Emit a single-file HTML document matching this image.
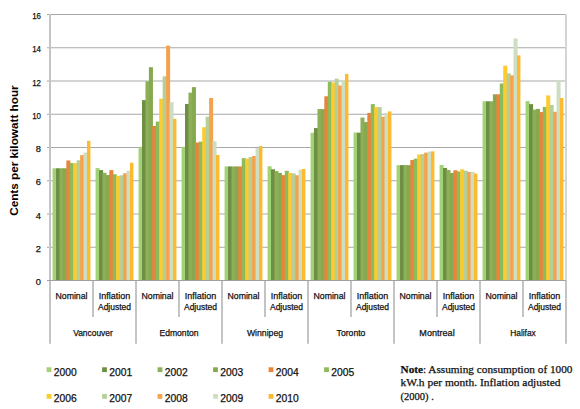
<!DOCTYPE html><html><head><meta charset="utf-8"><style>html,body{margin:0;padding:0;background:#fff;width:580px;height:409px;overflow:hidden}svg{display:block}text{font-family:"Liberation Sans",sans-serif}.t{stroke:#111;stroke-width:0.25px}</style></head><body>
<svg width="580" height="409" viewBox="0 0 580 409">
<rect width="580" height="409" fill="#fff"/>
<line x1="47" y1="247.25" x2="566.00" y2="247.25" stroke="#A8A8A8" stroke-width="1"/>
<line x1="47" y1="214.00" x2="566.00" y2="214.00" stroke="#A8A8A8" stroke-width="1"/>
<line x1="47" y1="180.75" x2="566.00" y2="180.75" stroke="#A8A8A8" stroke-width="1"/>
<line x1="47" y1="147.50" x2="566.00" y2="147.50" stroke="#A8A8A8" stroke-width="1"/>
<line x1="47" y1="114.25" x2="566.00" y2="114.25" stroke="#A8A8A8" stroke-width="1"/>
<line x1="47" y1="81.00" x2="566.00" y2="81.00" stroke="#A8A8A8" stroke-width="1"/>
<line x1="47" y1="47.75" x2="566.00" y2="47.75" stroke="#A8A8A8" stroke-width="1"/>
<line x1="47" y1="14.50" x2="566.00" y2="14.50" stroke="#A8A8A8" stroke-width="1"/>
<rect x="52.58" y="168.28" width="4.04" height="112.22" fill="#A2D276"/>
<rect x="56.02" y="168.28" width="4.04" height="112.22" fill="#6E8E44"/>
<rect x="59.46" y="168.28" width="4.04" height="112.22" fill="#8DAF57"/>
<rect x="62.90" y="168.28" width="4.04" height="112.22" fill="#86A94F"/>
<rect x="66.34" y="160.47" width="4.04" height="120.03" fill="#E9843A"/>
<rect x="69.78" y="163.13" width="4.04" height="117.37" fill="#8DBA5A"/>
<rect x="73.22" y="163.13" width="4.04" height="117.37" fill="#FDCB2C"/>
<rect x="76.66" y="160.30" width="4.04" height="120.20" fill="#B4D098"/>
<rect x="80.10" y="155.15" width="4.04" height="125.35" fill="#F5A24F"/>
<rect x="83.54" y="152.49" width="4.04" height="128.01" fill="#CEDEC3"/>
<rect x="86.98" y="140.85" width="3.44" height="139.65" fill="#FCBA30"/>
<rect x="95.58" y="168.11" width="4.04" height="112.39" fill="#A2D276"/>
<rect x="99.02" y="170.11" width="4.04" height="110.39" fill="#6E8E44"/>
<rect x="102.46" y="172.77" width="4.04" height="107.73" fill="#8DAF57"/>
<rect x="105.90" y="175.10" width="4.04" height="105.40" fill="#86A94F"/>
<rect x="109.34" y="170.11" width="4.04" height="110.39" fill="#E9843A"/>
<rect x="112.78" y="174.26" width="4.04" height="106.24" fill="#8DBA5A"/>
<rect x="116.22" y="175.93" width="4.04" height="104.57" fill="#FDCB2C"/>
<rect x="119.66" y="175.26" width="4.04" height="105.24" fill="#B4D098"/>
<rect x="123.10" y="173.27" width="4.04" height="107.23" fill="#F5A24F"/>
<rect x="126.54" y="170.61" width="4.04" height="109.89" fill="#CEDEC3"/>
<rect x="129.98" y="162.79" width="3.44" height="117.71" fill="#FCBA30"/>
<rect x="138.58" y="146.83" width="4.04" height="133.67" fill="#A2D276"/>
<rect x="142.02" y="100.12" width="4.04" height="180.38" fill="#6E8E44"/>
<rect x="145.46" y="81.33" width="4.04" height="199.17" fill="#8DAF57"/>
<rect x="148.90" y="67.20" width="4.04" height="213.30" fill="#86A94F"/>
<rect x="152.34" y="125.89" width="4.04" height="154.61" fill="#E9843A"/>
<rect x="155.78" y="121.56" width="4.04" height="158.94" fill="#8DBA5A"/>
<rect x="159.22" y="98.79" width="4.04" height="181.71" fill="#FDCB2C"/>
<rect x="162.66" y="76.34" width="4.04" height="204.16" fill="#B4D098"/>
<rect x="166.10" y="45.59" width="4.04" height="234.91" fill="#F5A24F"/>
<rect x="169.54" y="102.11" width="4.04" height="178.39" fill="#CEDEC3"/>
<rect x="172.98" y="118.74" width="3.44" height="161.76" fill="#FCBA30"/>
<rect x="181.58" y="146.83" width="4.04" height="133.67" fill="#A2D276"/>
<rect x="185.02" y="103.94" width="4.04" height="176.56" fill="#6E8E44"/>
<rect x="188.46" y="92.64" width="4.04" height="187.86" fill="#8DAF57"/>
<rect x="191.90" y="87.15" width="4.04" height="193.35" fill="#86A94F"/>
<rect x="195.34" y="142.51" width="4.04" height="137.99" fill="#E9843A"/>
<rect x="198.78" y="141.68" width="4.04" height="138.82" fill="#8DBA5A"/>
<rect x="202.22" y="127.22" width="4.04" height="153.28" fill="#FDCB2C"/>
<rect x="205.66" y="116.74" width="4.04" height="163.76" fill="#B4D098"/>
<rect x="209.10" y="97.96" width="4.04" height="182.54" fill="#F5A24F"/>
<rect x="212.54" y="141.18" width="4.04" height="139.32" fill="#CEDEC3"/>
<rect x="215.98" y="154.98" width="3.44" height="125.52" fill="#FCBA30"/>
<rect x="224.58" y="166.45" width="4.04" height="114.05" fill="#A2D276"/>
<rect x="228.02" y="166.45" width="4.04" height="114.05" fill="#6E8E44"/>
<rect x="231.46" y="166.45" width="4.04" height="114.05" fill="#8DAF57"/>
<rect x="234.90" y="166.45" width="4.04" height="114.05" fill="#86A94F"/>
<rect x="238.34" y="166.45" width="4.04" height="114.05" fill="#E9843A"/>
<rect x="241.78" y="158.14" width="4.04" height="122.36" fill="#8DBA5A"/>
<rect x="245.22" y="158.64" width="4.04" height="121.86" fill="#FDCB2C"/>
<rect x="248.66" y="156.97" width="4.04" height="123.53" fill="#B4D098"/>
<rect x="252.10" y="155.98" width="4.04" height="124.52" fill="#F5A24F"/>
<rect x="255.54" y="148.16" width="4.04" height="132.34" fill="#CEDEC3"/>
<rect x="258.98" y="146.00" width="3.44" height="134.50" fill="#FCBA30"/>
<rect x="267.58" y="166.28" width="4.04" height="114.22" fill="#A2D276"/>
<rect x="271.02" y="169.28" width="4.04" height="111.22" fill="#6E8E44"/>
<rect x="274.46" y="171.11" width="4.04" height="109.39" fill="#8DAF57"/>
<rect x="277.90" y="172.94" width="4.04" height="107.56" fill="#86A94F"/>
<rect x="281.34" y="175.10" width="4.04" height="105.40" fill="#E9843A"/>
<rect x="284.78" y="170.77" width="4.04" height="109.73" fill="#8DBA5A"/>
<rect x="288.22" y="172.94" width="4.04" height="107.56" fill="#FDCB2C"/>
<rect x="291.66" y="173.43" width="4.04" height="107.07" fill="#B4D098"/>
<rect x="295.10" y="175.26" width="4.04" height="105.24" fill="#F5A24F"/>
<rect x="298.54" y="169.61" width="4.04" height="110.89" fill="#CEDEC3"/>
<rect x="301.98" y="168.94" width="3.44" height="111.56" fill="#FCBA30"/>
<rect x="310.58" y="132.70" width="4.04" height="147.80" fill="#A2D276"/>
<rect x="314.02" y="128.05" width="4.04" height="152.45" fill="#6E8E44"/>
<rect x="317.46" y="109.09" width="4.04" height="171.41" fill="#8DAF57"/>
<rect x="320.90" y="109.09" width="4.04" height="171.41" fill="#86A94F"/>
<rect x="324.34" y="96.29" width="4.04" height="184.21" fill="#E9843A"/>
<rect x="327.78" y="81.83" width="4.04" height="198.67" fill="#8DBA5A"/>
<rect x="331.22" y="82.49" width="4.04" height="198.01" fill="#FDCB2C"/>
<rect x="334.66" y="78.67" width="4.04" height="201.83" fill="#B4D098"/>
<rect x="338.10" y="85.49" width="4.04" height="195.01" fill="#F5A24F"/>
<rect x="341.54" y="80.17" width="4.04" height="200.33" fill="#CEDEC3"/>
<rect x="344.98" y="74.02" width="3.44" height="206.48" fill="#FCBA30"/>
<rect x="353.58" y="132.54" width="4.04" height="147.96" fill="#A2D276"/>
<rect x="357.02" y="132.70" width="4.04" height="147.80" fill="#6E8E44"/>
<rect x="360.46" y="117.57" width="4.04" height="162.93" fill="#8DAF57"/>
<rect x="363.90" y="122.06" width="4.04" height="158.44" fill="#86A94F"/>
<rect x="367.34" y="112.92" width="4.04" height="167.58" fill="#E9843A"/>
<rect x="370.78" y="104.11" width="4.04" height="176.39" fill="#8DBA5A"/>
<rect x="374.22" y="107.10" width="4.04" height="173.40" fill="#FDCB2C"/>
<rect x="377.66" y="107.10" width="4.04" height="173.40" fill="#B4D098"/>
<rect x="381.10" y="116.74" width="4.04" height="163.76" fill="#F5A24F"/>
<rect x="384.54" y="112.92" width="4.04" height="167.58" fill="#CEDEC3"/>
<rect x="387.98" y="111.42" width="3.44" height="169.08" fill="#FCBA30"/>
<rect x="396.58" y="165.12" width="4.04" height="115.38" fill="#A2D276"/>
<rect x="400.02" y="165.12" width="4.04" height="115.38" fill="#6E8E44"/>
<rect x="403.46" y="165.12" width="4.04" height="115.38" fill="#8DAF57"/>
<rect x="406.90" y="165.12" width="4.04" height="115.38" fill="#86A94F"/>
<rect x="410.34" y="159.97" width="4.04" height="120.53" fill="#E9843A"/>
<rect x="413.78" y="158.64" width="4.04" height="121.86" fill="#8DBA5A"/>
<rect x="417.22" y="154.48" width="4.04" height="126.02" fill="#FDCB2C"/>
<rect x="420.66" y="154.15" width="4.04" height="126.35" fill="#B4D098"/>
<rect x="424.10" y="152.65" width="4.04" height="127.85" fill="#F5A24F"/>
<rect x="427.54" y="151.66" width="4.04" height="128.84" fill="#CEDEC3"/>
<rect x="430.98" y="151.32" width="3.44" height="129.18" fill="#FCBA30"/>
<rect x="439.58" y="164.95" width="4.04" height="115.55" fill="#A2D276"/>
<rect x="443.02" y="167.95" width="4.04" height="112.55" fill="#6E8E44"/>
<rect x="446.46" y="169.94" width="4.04" height="110.56" fill="#8DAF57"/>
<rect x="449.90" y="172.94" width="4.04" height="107.56" fill="#86A94F"/>
<rect x="453.34" y="170.28" width="4.04" height="110.22" fill="#E9843A"/>
<rect x="456.78" y="171.44" width="4.04" height="109.06" fill="#8DBA5A"/>
<rect x="460.22" y="169.28" width="4.04" height="111.22" fill="#FDCB2C"/>
<rect x="463.66" y="170.77" width="4.04" height="109.73" fill="#B4D098"/>
<rect x="467.10" y="171.94" width="4.04" height="108.56" fill="#F5A24F"/>
<rect x="470.54" y="171.77" width="4.04" height="108.73" fill="#CEDEC3"/>
<rect x="473.98" y="173.60" width="3.44" height="106.90" fill="#FCBA30"/>
<rect x="482.58" y="101.28" width="4.04" height="179.22" fill="#A2D276"/>
<rect x="486.02" y="101.28" width="4.04" height="179.22" fill="#6E8E44"/>
<rect x="489.46" y="101.28" width="4.04" height="179.22" fill="#8DAF57"/>
<rect x="492.90" y="94.30" width="4.04" height="186.20" fill="#86A94F"/>
<rect x="496.34" y="94.30" width="4.04" height="186.20" fill="#E9843A"/>
<rect x="499.78" y="83.49" width="4.04" height="197.01" fill="#8DBA5A"/>
<rect x="503.22" y="65.70" width="4.04" height="214.80" fill="#FDCB2C"/>
<rect x="506.66" y="73.35" width="4.04" height="207.15" fill="#B4D098"/>
<rect x="510.10" y="75.35" width="4.04" height="205.15" fill="#F5A24F"/>
<rect x="513.54" y="38.44" width="4.04" height="242.06" fill="#CEDEC3"/>
<rect x="516.98" y="55.40" width="3.44" height="225.10" fill="#FCBA30"/>
<rect x="525.58" y="101.12" width="4.04" height="179.38" fill="#A2D276"/>
<rect x="529.02" y="104.11" width="4.04" height="176.39" fill="#6E8E44"/>
<rect x="532.46" y="109.59" width="4.04" height="170.91" fill="#8DAF57"/>
<rect x="535.90" y="108.93" width="4.04" height="171.57" fill="#86A94F"/>
<rect x="539.34" y="112.09" width="4.04" height="168.41" fill="#E9843A"/>
<rect x="542.78" y="106.93" width="4.04" height="173.57" fill="#8DBA5A"/>
<rect x="546.22" y="95.46" width="4.04" height="185.04" fill="#FDCB2C"/>
<rect x="549.66" y="104.94" width="4.04" height="175.56" fill="#B4D098"/>
<rect x="553.10" y="111.76" width="4.04" height="168.74" fill="#F5A24F"/>
<rect x="556.54" y="80.33" width="4.04" height="200.17" fill="#CEDEC3"/>
<rect x="559.98" y="97.96" width="3.44" height="182.54" fill="#FCBA30"/>
<line x1="50.0" y1="14" x2="50.0" y2="343.8" stroke="#C4C4C4" stroke-width="2"/>
<line x1="566.0" y1="14" x2="566.0" y2="280.5" stroke="#D4D4D4" stroke-width="2"/>
<line x1="566.0" y1="280.5" x2="566.0" y2="343.8" stroke="#C4C4C4" stroke-width="2"/>
<line x1="93.00" y1="280.5" x2="93.00" y2="317" stroke="#C4C4C4" stroke-width="2"/>
<line x1="136.00" y1="280.5" x2="136.00" y2="343.8" stroke="#C4C4C4" stroke-width="2"/>
<line x1="179.00" y1="280.5" x2="179.00" y2="317" stroke="#C4C4C4" stroke-width="2"/>
<line x1="222.00" y1="280.5" x2="222.00" y2="343.8" stroke="#C4C4C4" stroke-width="2"/>
<line x1="265.00" y1="280.5" x2="265.00" y2="317" stroke="#C4C4C4" stroke-width="2"/>
<line x1="308.00" y1="280.5" x2="308.00" y2="343.8" stroke="#C4C4C4" stroke-width="2"/>
<line x1="351.00" y1="280.5" x2="351.00" y2="317" stroke="#C4C4C4" stroke-width="2"/>
<line x1="394.00" y1="280.5" x2="394.00" y2="343.8" stroke="#C4C4C4" stroke-width="2"/>
<line x1="437.00" y1="280.5" x2="437.00" y2="317" stroke="#C4C4C4" stroke-width="2"/>
<line x1="480.00" y1="280.5" x2="480.00" y2="343.8" stroke="#C4C4C4" stroke-width="2"/>
<line x1="523.00" y1="280.5" x2="523.00" y2="317" stroke="#C4C4C4" stroke-width="2"/>
<line x1="47" y1="280.5" x2="566.0" y2="280.5" stroke="#A0A0A0" stroke-width="1"/>
<text x="41" y="285.10" class="t" font-size="9.3" text-anchor="end" fill="#111">0</text>
<text x="41" y="251.85" class="t" font-size="9.3" text-anchor="end" fill="#111">2</text>
<text x="41" y="218.60" class="t" font-size="9.3" text-anchor="end" fill="#111">4</text>
<text x="41" y="185.35" class="t" font-size="9.3" text-anchor="end" fill="#111">6</text>
<text x="41" y="152.10" class="t" font-size="9.3" text-anchor="end" fill="#111">8</text>
<text x="41" y="118.85" class="t" font-size="9.3" text-anchor="end" fill="#111" textLength="8.8" lengthAdjust="spacingAndGlyphs">10</text>
<text x="41" y="85.60" class="t" font-size="9.3" text-anchor="end" fill="#111" textLength="8.8" lengthAdjust="spacingAndGlyphs">12</text>
<text x="41" y="52.35" class="t" font-size="9.3" text-anchor="end" fill="#111" textLength="8.8" lengthAdjust="spacingAndGlyphs">14</text>
<text x="41" y="19.10" class="t" font-size="9.3" text-anchor="end" fill="#111" textLength="8.8" lengthAdjust="spacingAndGlyphs">16</text>
<text transform="translate(18.4,150.6) rotate(-90)" font-size="11.5" font-weight="bold" text-anchor="middle" fill="#000" textLength="130.5" lengthAdjust="spacingAndGlyphs">Cents per kilowatt hour</text>
<text x="71.50" y="299" class="t" font-size="9" text-anchor="middle" fill="#111" textLength="32" lengthAdjust="spacingAndGlyphs">Nominal</text>
<text x="114.50" y="299" class="t" font-size="9" text-anchor="middle" fill="#111" textLength="31.5" lengthAdjust="spacingAndGlyphs">Inflation</text>
<text x="114.50" y="310" class="t" font-size="9" text-anchor="middle" fill="#111" textLength="33" lengthAdjust="spacingAndGlyphs">Adjusted</text>
<text x="93.00" y="336.2" class="t" font-size="9" text-anchor="middle" fill="#111" textLength="39.6" lengthAdjust="spacingAndGlyphs">Vancouver</text>
<text x="157.50" y="299" class="t" font-size="9" text-anchor="middle" fill="#111" textLength="32" lengthAdjust="spacingAndGlyphs">Nominal</text>
<text x="200.50" y="299" class="t" font-size="9" text-anchor="middle" fill="#111" textLength="31.5" lengthAdjust="spacingAndGlyphs">Inflation</text>
<text x="200.50" y="310" class="t" font-size="9" text-anchor="middle" fill="#111" textLength="33" lengthAdjust="spacingAndGlyphs">Adjusted</text>
<text x="179.00" y="336.2" class="t" font-size="9" text-anchor="middle" fill="#111" textLength="39.2" lengthAdjust="spacingAndGlyphs">Edmonton</text>
<text x="243.50" y="299" class="t" font-size="9" text-anchor="middle" fill="#111" textLength="32" lengthAdjust="spacingAndGlyphs">Nominal</text>
<text x="286.50" y="299" class="t" font-size="9" text-anchor="middle" fill="#111" textLength="31.5" lengthAdjust="spacingAndGlyphs">Inflation</text>
<text x="286.50" y="310" class="t" font-size="9" text-anchor="middle" fill="#111" textLength="33" lengthAdjust="spacingAndGlyphs">Adjusted</text>
<text x="265.00" y="336.2" class="t" font-size="9" text-anchor="middle" fill="#111" textLength="36.2" lengthAdjust="spacingAndGlyphs">Winnipeg</text>
<text x="329.50" y="299" class="t" font-size="9" text-anchor="middle" fill="#111" textLength="32" lengthAdjust="spacingAndGlyphs">Nominal</text>
<text x="372.50" y="299" class="t" font-size="9" text-anchor="middle" fill="#111" textLength="31.5" lengthAdjust="spacingAndGlyphs">Inflation</text>
<text x="372.50" y="310" class="t" font-size="9" text-anchor="middle" fill="#111" textLength="33" lengthAdjust="spacingAndGlyphs">Adjusted</text>
<text x="351.00" y="336.2" class="t" font-size="9" text-anchor="middle" fill="#111" textLength="28.9" lengthAdjust="spacingAndGlyphs">Toronto</text>
<text x="415.50" y="299" class="t" font-size="9" text-anchor="middle" fill="#111" textLength="32" lengthAdjust="spacingAndGlyphs">Nominal</text>
<text x="458.50" y="299" class="t" font-size="9" text-anchor="middle" fill="#111" textLength="31.5" lengthAdjust="spacingAndGlyphs">Inflation</text>
<text x="458.50" y="310" class="t" font-size="9" text-anchor="middle" fill="#111" textLength="33" lengthAdjust="spacingAndGlyphs">Adjusted</text>
<text x="437.00" y="336.2" class="t" font-size="9" text-anchor="middle" fill="#111" textLength="35.3" lengthAdjust="spacingAndGlyphs">Montreal</text>
<text x="501.50" y="299" class="t" font-size="9" text-anchor="middle" fill="#111" textLength="32" lengthAdjust="spacingAndGlyphs">Nominal</text>
<text x="544.50" y="299" class="t" font-size="9" text-anchor="middle" fill="#111" textLength="31.5" lengthAdjust="spacingAndGlyphs">Inflation</text>
<text x="544.50" y="310" class="t" font-size="9" text-anchor="middle" fill="#111" textLength="33" lengthAdjust="spacingAndGlyphs">Adjusted</text>
<text x="523.00" y="336.2" class="t" font-size="9" text-anchor="middle" fill="#111" textLength="25.5" lengthAdjust="spacingAndGlyphs">Halifax</text>
<rect x="46.60" y="367.30" width="4.8" height="4.8" fill="#A2D276"/>
<text x="53.80" y="375.50" class="t" font-size="10.3" fill="#111">2000</text>
<rect x="102.10" y="367.30" width="4.8" height="4.8" fill="#6E8E44"/>
<text x="109.30" y="375.50" class="t" font-size="10.3" fill="#111">2001</text>
<rect x="157.60" y="367.30" width="4.8" height="4.8" fill="#8DAF57"/>
<text x="164.80" y="375.50" class="t" font-size="10.3" fill="#111">2002</text>
<rect x="213.10" y="367.30" width="4.8" height="4.8" fill="#86A94F"/>
<text x="220.30" y="375.50" class="t" font-size="10.3" fill="#111">2003</text>
<rect x="268.60" y="367.30" width="4.8" height="4.8" fill="#E9843A"/>
<text x="275.80" y="375.50" class="t" font-size="10.3" fill="#111">2004</text>
<rect x="324.10" y="367.30" width="4.8" height="4.8" fill="#8DBA5A"/>
<text x="331.30" y="375.50" class="t" font-size="10.3" fill="#111">2005</text>
<rect x="46.60" y="394.00" width="4.8" height="4.8" fill="#FDCB2C"/>
<text x="53.80" y="402.20" class="t" font-size="10.3" fill="#111">2006</text>
<rect x="102.10" y="394.00" width="4.8" height="4.8" fill="#B4D098"/>
<text x="109.30" y="402.20" class="t" font-size="10.3" fill="#111">2007</text>
<rect x="157.60" y="394.00" width="4.8" height="4.8" fill="#F5A24F"/>
<text x="164.80" y="402.20" class="t" font-size="10.3" fill="#111">2008</text>
<rect x="213.10" y="394.00" width="4.8" height="4.8" fill="#CEDEC3"/>
<text x="220.30" y="402.20" class="t" font-size="10.3" fill="#111">2009</text>
<rect x="268.60" y="394.00" width="4.8" height="4.8" fill="#FCBA30"/>
<text x="275.80" y="402.20" class="t" font-size="10.3" fill="#111">2010</text>
<text class="t" style="font-family:'Liberation Serif',serif" x="400.5" y="372.5" font-size="10.8" fill="#111" textLength="172" lengthAdjust="spacingAndGlyphs"><tspan font-weight="bold">Note</tspan>: Assuming consumption of 1000</text>
<text class="t" style="font-family:'Liberation Serif',serif" x="400.5" y="386" font-size="10.8" fill="#111" textLength="160" lengthAdjust="spacingAndGlyphs">kW.h per month. Inflation adjusted</text>
<text class="t" style="font-family:'Liberation Serif',serif" x="400.5" y="400" font-size="10.5" fill="#111" textLength="33.3" lengthAdjust="spacingAndGlyphs">(2000) .</text>
</svg></body></html>
